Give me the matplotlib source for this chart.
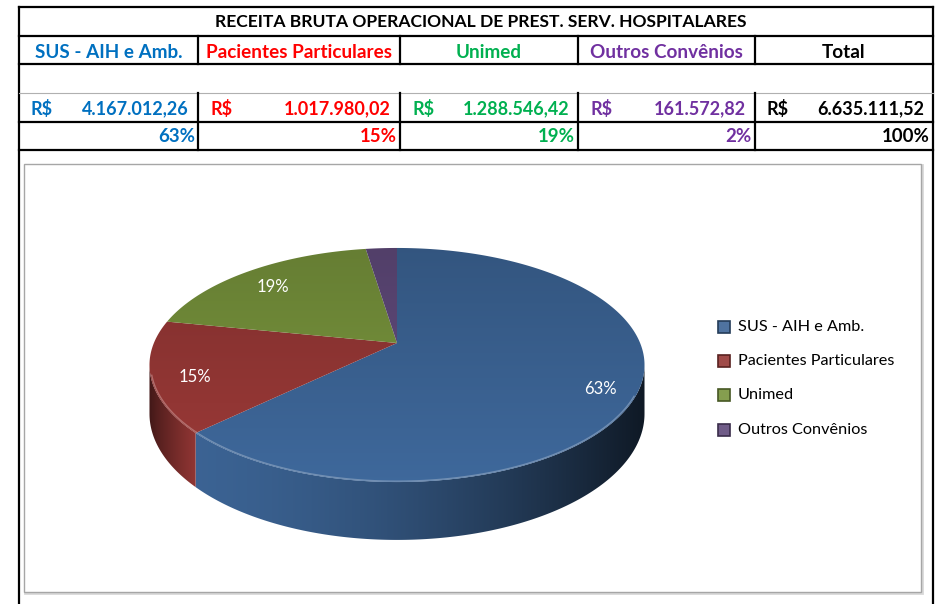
import numpy as np
import matplotlib
matplotlib.use("Agg")
import matplotlib.pyplot as plt
from matplotlib.patches import Polygon, Rectangle

# ---------------- data ----------------
title = "RECEITA BRUTA OPERACIONAL DE PREST. SERV. HOSPITALARES"
categories = ["SUS - AIH e Amb.", "Pacientes Particulares", "Unimed", "Outros Convênios"]
values = [4167012.26, 1017980.02, 1288546.42, 161572.82]
header_labels = categories + ["Total"]
value_labels = ["4.167.012,26", "1.017.980,02", "1.288.546,42", "161.572,82", "6.635.111,52"]
pct_labels = ["63%", "15%", "19%", "2%", "100%"]

# ---------------- styles ----------------
FONT = "Lato"
text_colors = ["#0070C0", "#FF0000", "#00B050", "#7030A0", "#000000"]
slice_colors = [(0.235, 0.392, 0.584), (0.584, 0.216, 0.208), (0.467, 0.576, 0.235), (0.376, 0.290, 0.482)]

fig = plt.figure(figsize=(9.5, 6.04), dpi=100)
ax = fig.add_axes([0, 0, 1, 1])
ax.set_xlim(0, 950)
ax.set_ylim(604, 0)
ax.axis("off")

# ---------------- table ----------------
col_x = [19, 198, 400, 578, 755, 933]
LW = 1.6
ax.plot([19, 19], [7, 604], color="black", lw=LW, solid_capstyle="projecting")
ax.plot([933, 933], [7, 604], color="black", lw=LW, solid_capstyle="projecting")
for y in [7, 36, 64, 122, 150]:
    ax.plot([19, 933], [y, y], color="black", lw=LW, solid_capstyle="projecting")
ax.plot([19, 933], [93, 93], color="#B0B0B0", lw=0.8)
for x in col_x[1:-1]:
    ax.plot([x, x], [36, 64], color="black", lw=LW)
    ax.plot([x, x], [93, 150], color="black", lw=LW)

ax.text(481, 22, title, ha="center", va="center", fontsize=12.6, fontweight="bold",
        family=FONT, color="black")
for i, lab in enumerate(header_labels):
    cx = (col_x[i] + col_x[i + 1]) / 2
    ax.text(cx, 52, lab, ha="center", va="center", fontsize=13.6, fontweight="bold",
            family=FONT, color=text_colors[i])
for i in range(5):
    ax.text(col_x[i] + 12, 109, "R$", ha="left", va="center", fontsize=13, fontweight="bold",
            family=FONT, color=text_colors[i])
    ax.text(col_x[i + 1] - 9, 109, value_labels[i], ha="right", va="center", fontsize=13,
            fontweight="bold", family=FONT, color=text_colors[i])
    ax.text(col_x[i + 1] - 3, 137, pct_labels[i], ha="right", va="center", fontsize=13.4,
            fontweight="bold", family=FONT, color=text_colors[i])

# ---------------- chart frame ----------------
ax.add_patch(Rectangle((25, 165), 897, 428, facecolor="none", edgecolor="#D8D8D8", lw=2.0))
ax.add_patch(Rectangle((23.5, 164), 897, 428, facecolor="white", edgecolor="#A6A6A6", lw=1.0))

# ---------------- 3D pie ----------------
CX, CY = 397.0, 343.0
K = 0.188
A = 112.9
B = 243.1
DEPTH = 47.0


def proj(theta_deg, r=1.0, down=0.0):
    t = np.radians(theta_deg)
    u = r * np.sin(t)
    v = r * np.cos(t)
    s = 1.0 / (1.0 + K * v)
    return CX + B * u * s, CY - A * v * s + down * s


total = float(np.sum(values))
fracs = np.array(values) / total
starts = np.concatenate([[0.0], np.cumsum(fracs)[:-1]]) * 360.0
ends = np.cumsum(fracs) * 360.0

vis_lo = np.degrees(np.arccos(-K))
vis_hi = 360.0 - vis_lo


def shade(c, f):
    c = np.array(c)
    if f >= 1:
        return tuple(np.clip(c + (1 - c) * (f - 1), 0, 1))
    return tuple(np.clip(c * f, 0, 1))


# side walls with horizontal gradients
xs = np.linspace(140, 660, 400)
for i in range(len(values)):
    a = max(starts[i], vis_lo)
    b = min(ends[i], vis_hi)
    if b <= a:
        continue
    th = np.linspace(a, b, 200)
    top = [proj(t) for t in th]
    bot = [proj(t, down=DEPTH) for t in th[::-1]]
    poly = Polygon(top + bot, closed=True, facecolor="none", edgecolor="none")
    ax.add_patch(poly)
    if i == 1:
        f = 0.45 + 0.55 * np.clip((xs - 150) / 48.0, 0, 1) ** 0.8
    else:
        tpos = np.clip((xs - 150) / 495.0, 0, 1)
        f = 1.0 - 0.75 * tpos ** 1.8
    base = np.array(slice_colors[i])
    img = np.clip(f[None, :, None] * base[None, None, :], 0, 1)
    img = np.repeat(img, 2, axis=0)
    im = ax.imshow(img, extent=(140, 660, 600, 250), aspect="auto", interpolation="bilinear", zorder=1)
    im.set_clip_path(poly)

# top faces with gentle vertical gradient
ys = np.linspace(240, 490, 200)
for i in range(len(values)):
    th = np.linspace(starts[i], ends[i], max(int((ends[i] - starts[i]) * 2), 4))
    pts = [proj(t) for t in th]
    poly = Polygon([(CX, CY)] + pts, closed=True, facecolor="none", edgecolor="none")
    ax.add_patch(poly)
    base = np.array(slice_colors[i])
    grad = (0.85 + 0.2 * (ys - 240) / 250.0)[:, None, None] * base[None, None, :]
    grad = np.repeat(np.clip(grad, 0, 1), 2, axis=1)
    im = ax.imshow(grad, extent=(140, 660, 490, 240), aspect="auto", interpolation="bilinear", zorder=2)
    im.set_clip_path(poly)

# front edge highlight
for i in range(len(values)):
    a = max(starts[i], vis_lo + 15)
    b = min(ends[i], vis_hi - 5)
    if b <= a:
        continue
    th = np.linspace(a, b, 100)
    xy = np.array([proj(t, r=0.995) for t in th])
    ax.plot(xy[:, 0], xy[:, 1], color=shade(slice_colors[i], 1.35), lw=1.0, alpha=0.8, zorder=3)

# percentage labels
for i in range(len(values)):
    if fracs[i] < 0.05:
        continue
    mid = (starts[i] + ends[i]) / 2
    lx, ly = proj(mid, r=0.84)
    ax.text(lx + 3, ly + 6, f"{fracs[i] * 100:.0f}%", ha="center", va="center", color="white",
            fontsize=12, family=FONT, zorder=4)

# legend
leg_y = [327, 361, 395, 430]
for i, lab in enumerate(categories):
    ax.add_patch(Rectangle((718, leg_y[i] - 6), 12, 12, facecolor=shade(slice_colors[i], 1.1),
                           edgecolor=shade(slice_colors[i], 0.6), lw=1.2, zorder=4))
    ax.text(738, leg_y[i], lab, ha="left", va="center", fontsize=11.7, family=FONT,
            color="black", zorder=4)

fig.savefig("out.png", dpi=100)
